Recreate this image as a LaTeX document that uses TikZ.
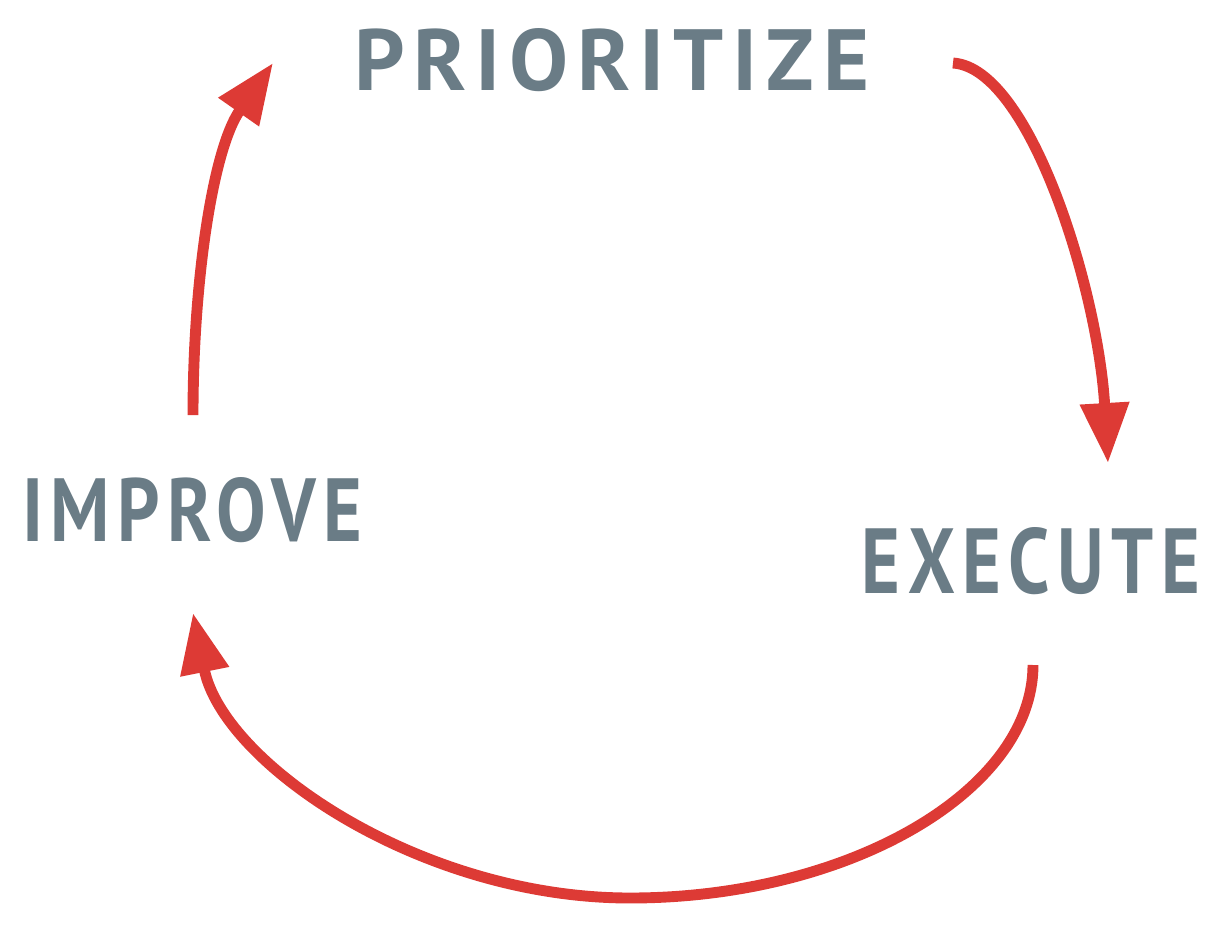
\documentclass[tikz,border=0pt]{standalone}
\usepackage{fontspec}
\setmainfont{PT Sans}
\usetikzlibrary{arrows.meta}
\definecolor{txtgray}{HTML}{6A7C86}
\definecolor{arrred}{HTML}{DD3A35}
\begin{document}
\begin{tikzpicture}[x=0.02cm,y=-0.02cm,
  lbl/.style={inner sep=0pt, text=txtgray, font=\bfseries\addfontfeature{LetterSpace=10}},
  cyc/.style={draw=arrred, line width=6.2pt, line cap=butt,
    -{Triangle[length=1.2cm,width=0.94cm]}}]
\useasboundingbox (0,0) rectangle (1230,940);
\node[lbl] (prio) at (612,60) {\resizebox{10.3cm}{1.24cm}{PRIORITIZE}};
\node[lbl] (impr) at (192,510) {\resizebox{6.8cm}{1.28cm}{IMPROVE}};
\node[lbl] (exec) at (1031,561) {\resizebox{6.76cm}{1.32cm}{EXECUTE}};
\coordinate (s1) at (193,415);
\coordinate (e1) at (273,63);
\coordinate (s2) at (953,63);
\coordinate (e2) at (1108,463);
\coordinate (s3) at (1033,665);
\coordinate (m3) at (630,898);
\coordinate (e3) at (193,613);
\draw[cyc] (s1) .. controls (193,285) and (212,150) .. (e1);
\draw[cyc] (s2) .. controls (1030,68) and (1098,290) .. (e2);
\draw[cyc] (s3) .. controls (1033,790) and (850,898) .. (m3)
  .. controls (420,898) and (223,763) .. (e3);
\end{tikzpicture}
\end{document}
